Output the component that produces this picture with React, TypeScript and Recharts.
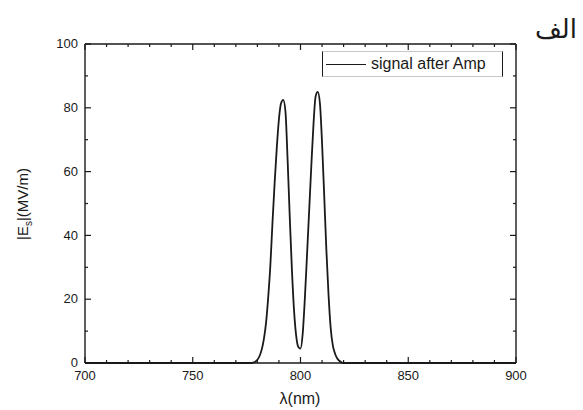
import { Line, LineChart, XAxis, YAxis } from "recharts";

const wavelengths = [
  700, 777, 778, 779, 780, 781, 782, 783, 784, 785, 786, 787, 788, 789, 790, 791, 792, 793, 794, 795, 796, 797, 798,
  799, 800, 801, 802, 803, 804, 805, 806, 807, 808, 809, 810, 811, 812, 813, 814, 815, 816, 817, 818, 819, 820, 821,
  900,
];
const signalAfterAmp = [
  0, 0, 0.1, 0.4, 1.0, 2.2, 4.2, 7.5, 12.5, 20.5, 30.5, 44, 56.5, 67.5, 76.5, 81.5, 82.5, 79, 64, 46, 29.5, 16.5, 8.5,
  5.0, 4.5, 9, 20, 33.5, 47.5, 61.5, 74.5, 83.5, 85, 81.5, 69, 52.5, 35.5, 21.5, 11, 5.5, 3, 1.5, 0.7, 0.2, 0, 0, 0,
];
const xTicks = [
  700, 710, 720, 730, 740, 750, 760, 770, 780, 790, 800, 810, 820, 830, 840, 850, 860, 870, 880, 890, 900,
];
const xLabelTicks = [700, 750, 800, 850, 900];
const yTicks = [0, 10, 20, 30, 40, 50, 60, 70, 80, 90, 100];
const yLabelTicks = [0, 20, 40, 60, 80, 100];

const data = wavelengths.map((w, i) => ({ w, signal: signalAfterAmp[i] }));

const ink = "#1a1a1a";
const font = "'Liberation Sans', Arial, sans-serif";

function BottomTick({ x, y, payload }: any) {
  const major = xLabelTicks.includes(payload.value);
  return (
    <g>
      <line x1={x} y1={y} x2={x} y2={y - (major ? 6 : 3)} stroke={ink} strokeWidth={1.2} />
      {major && (
        <text x={x} y={y + 17} textAnchor="middle" fontSize={13} fontFamily={font} fill={ink}>
          {payload.value}
        </text>
      )}
    </g>
  );
}

function TopTick({ x, y, payload }: any) {
  const major = xLabelTicks.includes(payload.value);
  return <line x1={x} y1={y} x2={x} y2={y + (major ? 6 : 3)} stroke={ink} strokeWidth={1.2} />;
}

function LeftTick({ x, y, payload }: any) {
  const major = yLabelTicks.includes(payload.value);
  return (
    <g>
      <line x1={x} y1={y} x2={x + (major ? 6 : 3)} y2={y} stroke={ink} strokeWidth={1.2} />
      {major && (
        <text x={x - 7} y={y} dy="0.33em" textAnchor="end" fontSize={13} fontFamily={font} fill={ink}>
          {payload.value}
        </text>
      )}
    </g>
  );
}

function RightTick({ x, y, payload }: any) {
  const major = yLabelTicks.includes(payload.value);
  return <line x1={x} y1={y} x2={x - (major ? 6 : 3)} y2={y} stroke={ink} strokeWidth={1.2} />;
}

const axisLine = { stroke: ink, strokeWidth: 1.4 };

export default function App() {
  return (
    <div style={{ position: "absolute", left: 0, top: 0, width: 583, height: 410, background: "#fff" }}>
      <div
        style={{
          position: "absolute",
          right: 6,
          top: 14,
          fontFamily: "'DejaVu Serif', 'DejaVu Sans', serif",
          fontSize: 26,
          lineHeight: "30px",
          color: ink,
          direction: "rtl",
        }}
      >
        الف
      </div>
      <LineChart width={583} height={410} data={data} margin={{ top: 34, right: 57, bottom: 37, left: 45 }}>
        <XAxis
          xAxisId="bottom"
          dataKey="w"
          type="number"
          domain={[700, 900]}
          ticks={xTicks}
          interval={0}
          height={10}
          tickSize={0}
          tickMargin={0}
          tickLine={false}
          axisLine={axisLine}
          tick={<BottomTick />}
        />
        <XAxis
          xAxisId="top"
          orientation="top"
          dataKey="w"
          type="number"
          domain={[700, 900]}
          ticks={xTicks}
          interval={0}
          height={10}
          tickSize={0}
          tickMargin={0}
          tickLine={false}
          axisLine={axisLine}
          tick={<TopTick />}
        />
        <YAxis
          yAxisId="left"
          type="number"
          domain={[0, 100]}
          ticks={yTicks}
          interval={0}
          width={40}
          tickSize={0}
          tickMargin={0}
          tickLine={false}
          axisLine={axisLine}
          tick={<LeftTick />}
        />
        <YAxis
          yAxisId="right"
          orientation="right"
          type="number"
          domain={[0, 100]}
          ticks={yTicks}
          interval={0}
          width={10}
          tickSize={0}
          tickMargin={0}
          tickLine={false}
          axisLine={axisLine}
          tick={<RightTick />}
        />
        <Line
          xAxisId="top"
          yAxisId="right"
          dataKey="signal"
          type="monotone"
          stroke="transparent"
          dot={false}
          activeDot={false}
          isAnimationActive={false}
        />
        <Line
          xAxisId="bottom"
          yAxisId="left"
          dataKey="signal"
          name="signal after Amp"
          type="monotone"
          stroke={ink}
          strokeWidth={1.8}
          dot={false}
          activeDot={false}
          isAnimationActive={false}
        />
      </LineChart>
      <svg style={{ position: "absolute", left: 0, top: 0, pointerEvents: "none" }} width={583} height={410}>
        <text x={300} y={404} textAnchor="middle" fontSize={16} fontFamily={font} fill={ink}>
          λ(nm)
        </text>
        <text
          transform="translate(28,204) rotate(-90)"
          textAnchor="middle"
          fontSize={15}
          fontFamily={font}
          fill={ink}
        >
          |E<tspan fontSize={10} dy={4}>s</tspan>
          <tspan dy={-4}>|(MV/m)</tspan>
        </text>
      </svg>
      <div
        style={{
          position: "absolute",
          left: 322,
          top: 51,
          width: 181,
          height: 26,
          borderLeft: `1px solid ${ink}`,
          borderRight: `1px solid ${ink}`,
          borderTop: "1px solid #c8c8c8",
          borderBottom: "1px solid #c8c8c8",
          boxSizing: "border-box",
          display: "flex",
          alignItems: "center",
          fontFamily: font,
          fontSize: 16,
          color: ink,
          whiteSpace: "nowrap",
        }}
      >
        <span
          style={{
            display: "inline-block",
            width: 40,
            height: 0,
            borderTop: `1.6px solid ${ink}`,
            marginLeft: 3,
            marginRight: 5,
          }}
        />
        signal after Amp
      </div>
    </div>
  );
}
